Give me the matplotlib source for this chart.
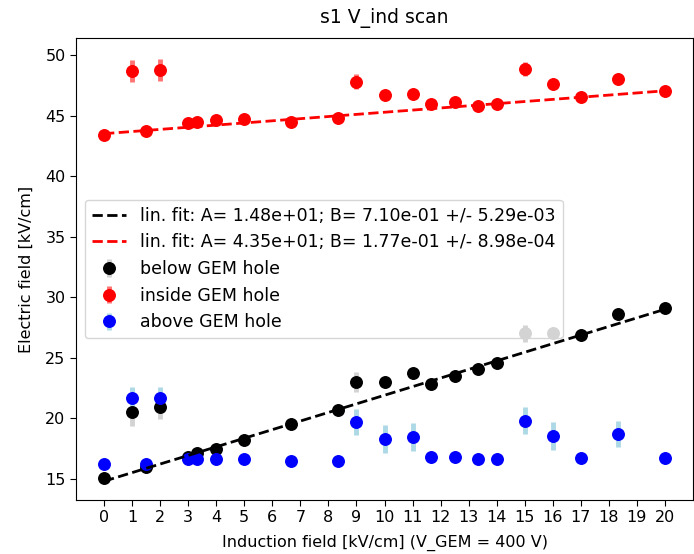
import matplotlib
matplotlib.use("Agg")
import matplotlib.pyplot as plt
import numpy as np

x = [0, 1, 1.5, 2, 3, 3.33, 4, 5, 6.67, 8.33, 9, 10, 11, 11.67, 12.5, 13.33, 14, 15, 16, 17, 18.33, 20]

below = [15.1, 20.5, 16.0, 20.9, 16.8, 17.1, 17.45, 18.2, 19.5, 20.65, 23.0, 23.0, 23.7, 22.8, 23.45,
         24.1, 24.6, 27.0, 27.0, 26.85, 28.6, 29.1]
below_err = [0.1, 1.1, 0.1, 1.0, 0.1, 0.1, 0.1, 0.1, 0.1, 0.1, 0.8, 0.1, 0.1, 0.1, 0.1,
             0.1, 0.1, 0.7, 0.4, 0.1, 0.1, 0.1]
below_gray = [False] * 17 + [True, True] + [False] * 3

inside = [43.4, 48.65, 43.7, 48.75, 44.4, 44.5, 44.6, 44.7, 44.5, 44.8, 47.8, 46.7, 46.8, 45.95, 46.1,
          45.8, 45.95, 48.85, 47.6, 46.5, 48.0, 47.0]
inside_err = [0.1, 0.9, 0.1, 0.9, 0.1, 0.1, 0.1, 0.1, 0.1, 0.1, 0.6, 0.1, 0.1, 0.1, 0.1,
              0.1, 0.1, 0.6, 0.2, 0.1, 0.1, 0.1]

above = [16.25, 21.65, 16.2, 21.65, 16.6, 16.6, 16.6, 16.6, 16.5, 16.5, 19.7, 18.3, 18.45, 16.8, 16.8,
         16.6, 16.6, 19.8, 18.55, 16.7, 18.7, 16.7]
above_err = [0.1, 0.9, 0.1, 0.9, 0.1, 0.1, 0.1, 0.1, 0.1, 0.1, 1.1, 1.15, 1.15, 0.1, 0.1,
             0.1, 0.1, 1.1, 1.15, 0.1, 1.1, 0.1]

fit_below = (14.8, 0.710)
fit_inside = (43.5, 0.177)
fit_labels = ["lin. fit: A= 1.48e+01; B= 7.10e-01 +/- 5.29e-03",
              "lin. fit: A= 4.35e+01; B= 1.77e-01 +/- 8.98e-04"]

fig = plt.figure(figsize=(6.94, 5.54), dpi=100)
ax = fig.add_axes([76 / 694, 1 - 500 / 554, (693 - 76) / 694, (500 - 38) / 554])

xa = np.array(x)
xf = np.array([min(x), max(x)])
ax.plot(xf, fit_below[0] + fit_below[1] * xf, '--', color='black', lw=2, label=fit_labels[0], zorder=4)
ax.plot(xf, fit_inside[0] + fit_inside[1] * xf, '--', color='red', lw=2, label=fit_labels[1], zorder=4)

ms = 8.3
bg = np.array(below_gray)
bl = np.array(below)
be = np.array(below_err)
ax.errorbar(xa[~bg], bl[~bg], yerr=be[~bg], fmt='o', color='black', ecolor='lightgray',
            elinewidth=3.5, ms=ms, label='below GEM hole', zorder=3)
ax.errorbar(xa[bg], bl[bg], yerr=be[bg], fmt='o', color='lightgray', ecolor='lightgray',
            elinewidth=3.5, ms=ms, zorder=6)
ax.errorbar(x, inside, yerr=inside_err, fmt='o', color='red', ecolor=(1, 0.45, 0.45),
            elinewidth=3.5, ms=ms, label='inside GEM hole', zorder=3)
ax.errorbar(x, above, yerr=above_err, fmt='o', color='blue', ecolor='lightblue',
            elinewidth=3.5, ms=ms, label='above GEM hole', zorder=3)

ax.set_xlim(-1, 21)
ax.set_ylim(13.25, 51.4)
ax.set_xticks(range(0, 21))
ax.set_yticks([15, 20, 25, 30, 35, 40, 45, 50])
ax.tick_params(labelsize=11.5, length=4)
ax.set_title("s1 V_ind scan", fontsize=13.5, pad=10.5)
ax.set_xlabel("Induction field [kV/cm] (V_GEM = 400 V)", fontsize=11.5, labelpad=6.5)
ax.set_ylabel("Electric field [kV/cm]", fontsize=11.5, labelpad=8)
ax.legend(loc='center left', fontsize=12.5)

fig.savefig("out.png", dpi=100)
